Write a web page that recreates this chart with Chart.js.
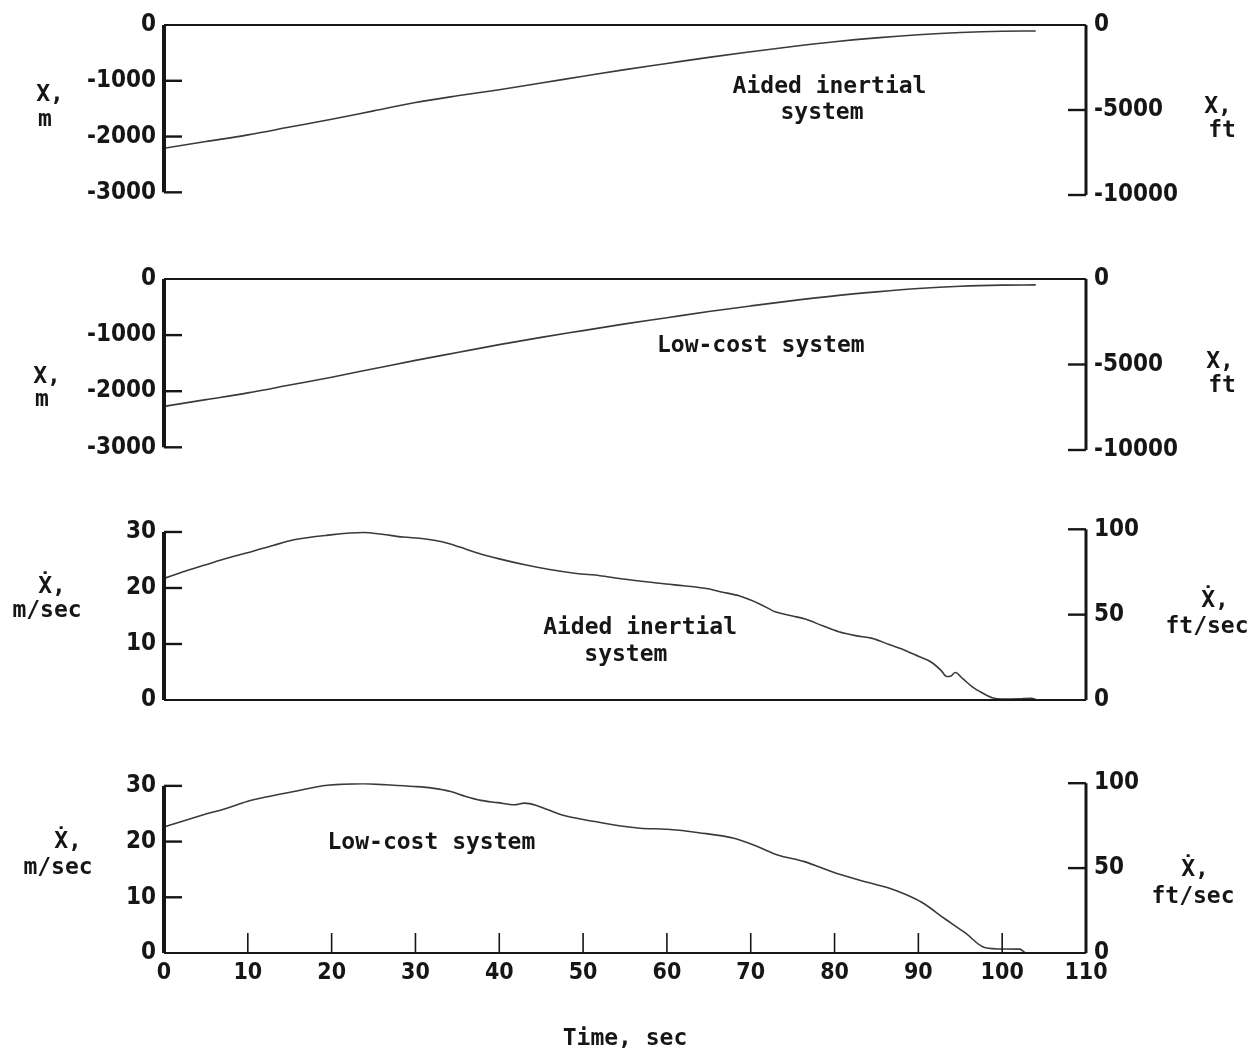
<!DOCTYPE html>
<html>
<head>
<meta charset="utf-8">
<title>Position and velocity histories</title>
<script src="https://cdn.jsdelivr.net/npm/chart.js@4.4.1/dist/chart.umd.min.js"></script>
<style>
  html, body { margin: 0; padding: 0; background: #fff; }
  #page { position: relative; width: 1253px; height: 1055px; overflow: hidden; background: #fff; }
  #page canvas { position: absolute; left: 0; }
</style>
</head>
<body>
<div id="page">
  <canvas id="panelPosAided" width="1253" height="230" style="top:0px"></canvas>
  <canvas id="panelPosLow" width="1253" height="230" style="top:250px"></canvas>
  <canvas id="panelVelAided" width="1253" height="230" style="top:500px"></canvas>
  <canvas id="panelVelLow" width="1253" height="300" style="top:755px"></canvas>
</div>
<script>
// ---- data ----
const timePos = [0, 5, 10, 15, 20, 25, 30, 35, 40, 45, 50, 55, 60, 65, 70, 75, 80, 85, 90, 95, 100, 104];
const posAided = [-2210, -2090, -1970, -1830, -1690, -1540, -1390, -1270, -1160, -1040, -920, -800,
                  -690, -580, -480, -385, -300, -230, -175, -135, -112, -108];
const posLowCost = [-2270, -2150, -2030, -1890, -1750, -1600, -1450, -1310, -1170, -1040, -920, -800,
                    -690, -580, -480, -385, -300, -230, -170, -130, -110, -105];

const timeVelAided = [0, 2.5, 5.1, 7.5, 10.7, 13, 15.5, 19.4, 23.8, 26, 28.5, 31, 33.3, 35.3, 37.3, 40,
                      43.2, 46, 49.2, 52, 54.3, 57, 59.9, 62, 64.7, 66.5, 68.6, 71, 73, 75, 76.6, 78.5,
                      80.5, 82.5, 84.5, 86.5, 88.5, 90, 91.6, 92.7, 93.4, 93.9, 94.4, 95.3, 96.4, 97.6,
                      98.8, 100, 102, 103.5, 104];
const velAided = [21.7, 23.0, 24.2, 25.3, 26.6, 27.6, 28.6, 29.4, 29.9, 29.6, 29.1, 28.8, 28.2, 27.3, 26.3, 25.2,
                  24.1, 23.3, 22.6, 22.2, 21.7, 21.2, 20.7, 20.4, 19.9, 19.3, 18.6, 17.2, 15.7, 15.0, 14.4, 13.3,
                  12.2, 11.5, 11.0, 9.9, 8.8, 7.8, 6.7, 5.3, 4.2, 4.3, 4.9, 3.8, 2.4, 1.3,
                  0.4, 0.15, 0.2, 0.3, 0.1];

const timeVelLow = [0, 2.5, 4.7, 7.5, 9.9, 12.5, 15.5, 19.5, 23.8, 26.5, 29.8, 32, 34.2, 36, 37.8, 39.8,
                    41.8, 43, 44.6, 47.4, 51.4, 54.5, 56.8, 60, 63.8, 68, 70.8, 73.2, 76.4, 80.2, 83.9,
                    86.2, 88.5, 90.4, 93.2, 95.6, 97.9, 100.2, 102.1, 102.8, 104.4];
const velLowCost = [22.6, 23.8, 24.8, 26.0, 27.2, 28.1, 29.0, 30.1, 30.4, 30.2, 29.9, 29.6, 29.0, 28.1, 27.4, 27.0,
                    26.6, 26.9, 26.4, 24.8, 23.6, 22.8, 22.4, 22.2, 21.6, 20.6, 19.1, 17.6, 16.4, 14.3, 12.7,
                    11.8, 10.5, 9.1, 6.1, 3.6, 1.0, 0.73, 0.7, 0.05, 0];

const timeTicks = [0, 10, 20, 30, 40, 50, 60, 70, 80, 90, 100, 110];
const posTicksM = [0, -1000, -2000, -3000];
const posTicksFt = [0, -5000, -10000];
const velTicksM = [0, 10, 20, 30];
const velTicksFt = [0, 50, 100];

// ---- styling ----
const INK = '#161616';
const CURVE = '#3a3a3a';
const TICK_FONT = { family: '"DejaVu Sans Condensed", "DejaVu Sans", sans-serif', size: 24, weight: 'bold' };
const TEXT_FONT = 'bold 23px "DejaVu Sans Mono", monospace';
const FT = 0.3048;

function pairs(xs, ys) {
  return xs.map(function(t, i) { return { x: t, y: ys[i] }; });
}

function hline(ctx, x0, y0, x1, y1, w) {
  ctx.lineWidth = w;
  ctx.beginPath();
  ctx.moveTo(x0, y0);
  ctx.lineTo(x1, y1);
  ctx.stroke();
}

// axes frame drawn in the figure's style: inward ticks, thick spines
const framePlugin = {
  id: 'frame',
  afterDraw(chart, args, o) {
    const ctx = chart.ctx;
    const area = chart.chartArea;
    const xs = chart.scales.x, ys = chart.scales.y, ys2 = chart.scales.y2;
    ctx.save();
    ctx.strokeStyle = INK;
    ctx.lineCap = 'butt';

    const yZero = ys.getPixelForValue(0);
    hline(ctx, area.left, yZero, area.right, yZero, 2.2);

    hline(ctx, area.left, ys.getPixelForValue(o.leftSpan[0]), area.left, ys.getPixelForValue(o.leftSpan[1]), 4);
    o.leftTicks.forEach(function(v) {
      const py = ys.getPixelForValue(v);
      hline(ctx, area.left, py, area.left + 18, py, 2.4);
    });

    hline(ctx, area.right, ys2.getPixelForValue(o.rightSpan[0]), area.right, ys2.getPixelForValue(o.rightSpan[1]), 3);
    o.rightTicks.forEach(function(v) {
      const py = ys2.getPixelForValue(v);
      hline(ctx, area.right - 18, py, area.right, py, 2.4);
    });

    if (o.timeTicks) {
      o.timeTicks.forEach(function(v) {
        const px = xs.getPixelForValue(v);
        hline(ctx, px, yZero, px, yZero - 20, 1.6);
      });
    }

    ctx.fillStyle = INK;
    ctx.font = TEXT_FONT;
    ctx.textAlign = 'center';
    ctx.textBaseline = 'middle';
    (o.notes || []).forEach(function(n) {
      ctx.fillText(n.text, xs.getPixelForValue(n.t), ys.getPixelForValue(n.v));
    });
    (o.titles || []).forEach(function(tt) {
      ctx.fillText(tt.text, tt.x, tt.y - o.top);
    });
    ctx.restore();
  }
};

function makePanel(id, cfg) {
  const showTime = !!cfg.showTime;
  new Chart(document.getElementById(id), {
    type: 'line',
    data: {
      datasets: [{
        data: pairs(cfg.time, cfg.values),
        borderColor: CURVE,
        borderWidth: 1.6,
        pointRadius: 0,
        fill: false,
        cubicInterpolationMode: 'monotone',
        yAxisID: 'y'
      }]
    },
    plugins: [framePlugin],
    options: {
      responsive: false,
      animation: false,
      events: [],
      layout: { padding: { left: 0, right: 0, top: cfg.padTop, bottom: cfg.padBottom } },
      plugins: {
        legend: { display: false },
        tooltip: { enabled: false },
        frame: {
          top: cfg.top,
          leftSpan: cfg.leftSpan,
          rightSpan: cfg.rightSpan,
          leftTicks: cfg.leftTicks.filter(function(v) { return v !== 0; }),
          rightTicks: cfg.rightTicks.filter(function(v) { return v !== 0; }),
          timeTicks: showTime ? timeTicks.filter(function(v) { return v > 0 && v < 110; }) : null,
          notes: cfg.notes,
          titles: cfg.titles
        }
      },
      scales: {
        x: {
          type: 'linear',
          min: 0,
          max: 110,
          display: showTime,
          grid: { display: false, drawTicks: false },
          border: { display: false },
          afterBuildTicks: function(s) { s.ticks = timeTicks.map(function(v) { return { value: v }; }); },
          afterFit: function(s) { s.height = showTime ? 102 : 0; },
          ticks: {
            padding: 6,
            maxRotation: 0,
            autoSkip: false,
            color: INK,
            font: { family: TICK_FONT.family, size: 23, weight: 'bold' },
            callback: function(v) { return String(v); }
          },
          title: {
            display: showTime,
            text: 'Time, sec',
            color: INK,
            font: { family: '"DejaVu Sans Mono", monospace', size: 23, weight: 'bold' },
            padding: { top: 0, bottom: 2 }
          }
        },
        y: {
          type: 'linear',
          position: 'left',
          min: cfg.leftRange[0],
          max: cfg.leftRange[1],
          grid: { display: false, drawTicks: false },
          border: { display: false },
          afterBuildTicks: function(s) { s.ticks = cfg.leftTicks.map(function(v) { return { value: v }; }); },
          afterFit: function(s) { s.width = 164; },
          ticks: {
            padding: 8,
            autoSkip: false,
            color: INK,
            font: TICK_FONT,
            callback: function(v) { return String(v); }
          }
        },
        y2: {
          type: 'linear',
          position: 'right',
          min: cfg.rightRange[0],
          max: cfg.rightRange[1],
          grid: { display: false, drawTicks: false },
          border: { display: false },
          afterBuildTicks: function(s) { s.ticks = cfg.rightTicks.map(function(v) { return { value: v }; }); },
          afterFit: function(s) { s.width = 167; },
          ticks: {
            padding: 8,
            autoSkip: false,
            color: INK,
            font: TICK_FONT,
            callback: function(v) { return String(v); }
          }
        }
      }
    }
  });
}

makePanel('panelPosAided', {
  top: 0, padTop: 25, padBottom: 35,
  time: timePos, values: posAided,
  leftRange: [-10000 * FT, 0], rightRange: [-10000, 0],
  leftTicks: posTicksM, rightTicks: posTicksFt,
  leftSpan: [0, -3000], rightSpan: [0, -10000],
  notes: [{ text: 'Aided inertial', t: 79.4, v: -1113 }, { text: 'system', t: 78.5, v: -1580 }],
  titles: [{ text: 'X,', x: 50, y: 95 }, { text: 'm', x: 45, y: 120 },
           { text: 'X,', x: 1218, y: 107 }, { text: 'ft', x: 1222, y: 131 }]
});

makePanel('panelPosLow', {
  top: 250, padTop: 29, padBottom: 30,
  time: timePos, values: posLowCost,
  leftRange: [-10000 * FT, 0], rightRange: [-10000, 0],
  leftTicks: posTicksM, rightTicks: posTicksFt,
  leftSpan: [0, -3000], rightSpan: [0, -10000],
  notes: [{ text: 'Low-cost system', t: 71.2, v: -1196 }],
  titles: [{ text: 'X,', x: 47, y: 377 }, { text: 'm', x: 42, y: 400 },
           { text: 'X,', x: 1220, y: 362 }, { text: 'ft', x: 1222, y: 386 }]
});

makePanel('panelVelAided', {
  top: 500, padTop: 29.3, padBottom: 30,
  time: timeVelAided, values: velAided,
  leftRange: [0, 100 * FT], rightRange: [0, 100],
  leftTicks: velTicksM, rightTicks: velTicksFt,
  leftSpan: [0, 30], rightSpan: [0, 100],
  notes: [{ text: 'Aided inertial', t: 56.8, v: 12.9 }, { text: 'system', t: 55.1, v: 8.0 }],
  titles: [{ text: '\u1E8A,', x: 52, y: 587 }, { text: 'm/sec', x: 47, y: 611 },
           { text: '\u1E8A,', x: 1215, y: 601 }, { text: 'ft/sec', x: 1207, y: 627 }]
});

makePanel('panelVelLow', {
  top: 755, padTop: 28.2, padBottom: 0, showTime: true,
  time: timeVelLow, values: velLowCost,
  leftRange: [0, 100 * FT], rightRange: [0, 100],
  leftTicks: velTicksM, rightTicks: velTicksFt,
  leftSpan: [0, 30], rightSpan: [0, 100],
  notes: [{ text: 'Low-cost system', t: 31.9, v: 19.7 }],
  titles: [{ text: '\u1E8A,', x: 68, y: 842 }, { text: 'm/sec', x: 58, y: 868 },
           { text: '\u1E8A,', x: 1195, y: 870 }, { text: 'ft/sec', x: 1193, y: 897 }]
});
</script>
</body>
</html>
